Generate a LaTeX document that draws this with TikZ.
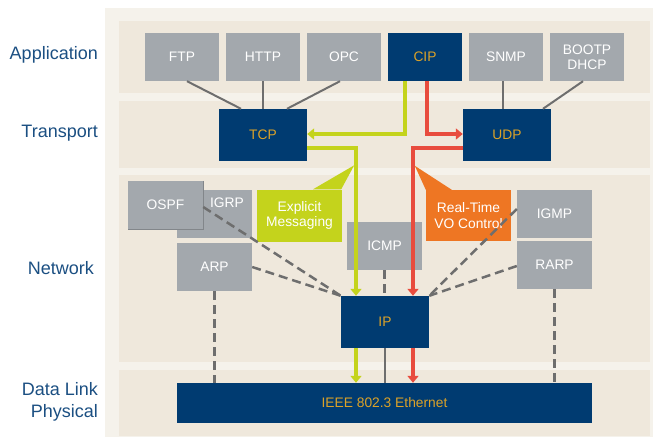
\documentclass[tikz,border=0pt]{standalone}
\usepackage{fontspec}
\setmainfont{Liberation Sans}
\usetikzlibrary{arrows.meta,calc}
\definecolor{outerbg}{HTML}{F5F2EB}
\definecolor{bandbg}{HTML}{EFE8DC}
\definecolor{boxgray}{HTML}{A3A8AD}
\definecolor{navy}{HTML}{003B71}
\definecolor{gold}{HTML}{DCA228}
\definecolor{limeg}{HTML}{C4D31C}
\definecolor{redl}{HTML}{E84C3E}
\definecolor{orangec}{HTML}{EE7623}
\definecolor{linegray}{HTML}{6E6E6E}
\definecolor{labelblue}{HTML}{1B4F82}
\begin{document}
\begin{tikzpicture}[x=1pt,y=-1pt,
  boxfont/.style={font=\fontsize{13.8}{15.5}\selectfont},
  graybox/.style={boxfont,fill=boxgray,text=white,minimum width=74pt,minimum height=48pt,inner sep=0pt,align=center},
  navybox/.style={boxfont,fill=navy,text=gold,minimum width=88pt,minimum height=52pt,inner sep=0pt},
  calloutbox/.style={boxfont,text=white,minimum width=85pt,minimum height=52pt,inner sep=0pt,align=center},
  layerlabel/.style={text=labelblue,font=\fontsize{18}{22}\selectfont,anchor=east,align=right,inner sep=0pt},
  solidgray/.style={draw=linegray,line width=2pt},
  dashgray/.style={draw=linegray,line width=2.5pt,dash pattern=on 9pt off 5pt},
  limearrow/.style={draw=limeg,line width=4pt,-{Triangle[width=11pt,length=7pt]}},
  redarrow/.style={draw=redl,line width=4pt,-{Triangle[width=11pt,length=7pt]}}
]
\useasboundingbox (0,0) rectangle (654,439);
\fill[white] (0,0) rectangle (654,439);
\fill[outerbg] (105,8) rectangle (653,437);
% bands
\fill[bandbg] (119,21) rectangle (650,93);
\fill[bandbg] (119,101) rectangle (650,168);
\fill[bandbg] (119,175) rectangle (650,362);
\fill[bandbg] (119,370) rectangle (650,436);
% layer labels
\node[layerlabel] (lapp) at (98,55) {Application};
\node[layerlabel] (ltrans) at (98,133) {Transport};
\node[layerlabel] (lnet) at (94,268) {Network};
\node[layerlabel] (ldl) at (98,402) {Data Link\\Physical};
% application boxes
\node[graybox] (ftp) at (182,57) {FTP};
\node[graybox] (http) at (263,57) {HTTP};
\node[graybox] (opc) at (344,57) {OPC};
\node[navybox,minimum width=74pt,minimum height=48pt] (cip) at (425,57) {CIP};
\node[graybox] (snmp) at (506,57) {SNMP};
\node[graybox] (bootp) at (587,57) {BOOTP\\[-1pt]DHCP};
% transport boxes
\node[navybox] (tcp) at (263,135) {TCP};
\node[navybox] (udp) at (507,135) {UDP};
% application -> transport connectors
\draw[solidgray] ([xshift=5pt]ftp.south) -- ([xshift=-22pt]tcp.north);
\draw[solidgray] (http.south) -- (http.south |- tcp.north);
\draw[solidgray] ([xshift=-4pt]opc.south) -- ([xshift=24pt]tcp.north);
\draw[solidgray] ([xshift=-3pt]snmp.south) -- ([xshift=-3pt]snmp.south |- udp.north);
\draw[solidgray] ([xshift=-4pt]bootp.south) -- ([xshift=36pt]udp.north);
% network boxes
\node[graybox,minimum width=75pt] (igrp) at (214.5,214) {};
\node[boxfont,text=white,inner sep=0pt] (igrptext) at (227,203) {IGRP};
\node[graybox,minimum width=75pt] (ospf) at (165.5,205) {OSPF};
\draw[draw=boxgray!80!black,line width=0.8pt] (ospf.north east) -- (ospf.south east) -- (ospf.south west);
\node[graybox,minimum width=75pt] (arp) at (214.5,267) {ARP};
\node[graybox,minimum width=75pt] (icmp) at (384.5,246) {ICMP};
\node[graybox,minimum width=75pt] (igmp) at (554.5,214) {IGMP};
\node[graybox,minimum width=75pt] (rarp) at (554.5,265) {RARP};
\node[calloutbox,fill=limeg] (em) at (299.5,215.5) {Explicit\\Messaging};
\fill[limeg] ([xshift=13.5pt]em.north) -- ($(em.north east)+(12,-24)$) -- ([xshift=-1pt]em.north east) -- cycle;
\node[calloutbox,fill=orangec,minimum height=51pt] (rt) at (468.5,215.5) {Real-Time\\VO Control};
\fill[orangec] (rt.north west) -- ($(rt.north west)+(-11,-24)$) -- ($(rt.north west)+(26,0)$) -- cycle;
\node[navybox] (ip) at (385,322) {IP};
\node[navybox,minimum width=415pt,minimum height=40pt] (ieee) at (384.5,403) {IEEE 802.3 Ethernet};
% dashed network connectors
\draw[dashgray] ([yshift=-2pt]ospf.east) -- (ip.north west);
\draw[dashgray] (arp.east) -- (ip.north west);
\draw[dashgray] (icmp.south) -- (icmp.south |- ip.north);
\draw[dashgray] ([yshift=5pt]igmp.west) -- (ip.north east);
\draw[dashgray] ([yshift=-1pt]rarp.west) -- (ip.north east);
\draw[dashgray] (arp.south) -- (arp.south |- ieee.north);
\draw[dashgray] (rarp.south) -- (rarp.south |- ieee.north);
\draw[solidgray] (ip.south) -- (ip.south |- ieee.north);
% colored flows
\draw[limearrow] ([xshift=-20pt]cip.south) |- ([yshift=1pt]tcp.east);
\draw[redarrow] ([xshift=2pt]cip.south) |- ([yshift=1pt]udp.west);
\draw[limearrow] ([yshift=-13pt]tcp.east) -| ([xshift=-29pt]ip.north);
\draw[redarrow] ([yshift=-13pt]udp.west) -| ([xshift=28pt]ip.north);
\draw[limearrow] ([xshift=-29pt]ip.south) -- ([xshift=-29pt]ip.south |- ieee.north);
\draw[redarrow] ([xshift=28pt]ip.south) -- ([xshift=28pt]ip.south |- ieee.north);
\end{tikzpicture}
\end{document}
